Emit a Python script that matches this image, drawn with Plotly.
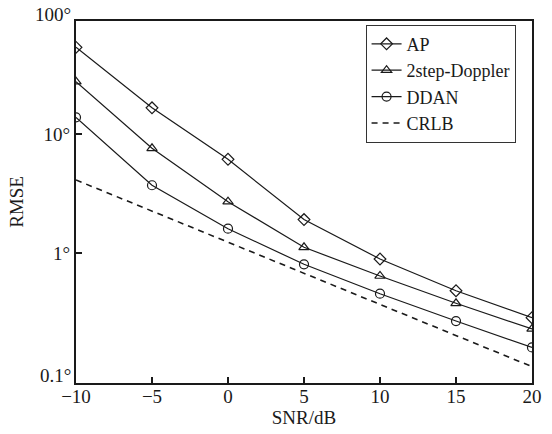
import numpy as np
import plotly.graph_objects as go

snr = [-10, -5, 0, 5, 10, 15, 20]
rmse_ap = [53.5, 16.6, 6.13, 1.91, 0.89, 0.482, 0.286]
rmse_2step = [27.5, 7.58, 2.70, 1.117, 0.641, 0.378, 0.230]
rmse_ddan = [13.8, 3.71, 1.60, 0.804, 0.455, 0.268, 0.161]
rmse_crlb = [4.11, 2.25, 1.23, 0.675, 0.369, 0.202, 0.111]

x_ticks = [-10, -5, 0, 5, 10, 15, 20]
y_ticks = [1, 10]
y_ticklabels = ["1°", "10°"]

FONT = "Liberation Serif, Times New Roman, serif"
INK = "#1a1a1a"

fig = go.Figure()

series = [
    ("AP", rmse_ap, "diamond-open"),
    ("2step-Doppler", rmse_2step, "triangle-up-open"),
    ("DDAN", rmse_ddan, "circle-open"),
]
for name, vals, sym in series:
    fig.add_trace(go.Scatter(
        x=snr, y=vals, name=name, mode="lines+markers",
        line=dict(color=INK, width=1.2),
        marker=dict(symbol=sym, size=9, color=INK, line=dict(width=1.2)),
    ))

fig.add_trace(go.Scatter(
    x=snr, y=rmse_crlb, name="CRLB", mode="lines",
    line=dict(color=INK, width=1.6, dash="6px,5px"),
))

# outer decade labels sit just beyond the drawn frame
fig.add_annotation(text="100°", xref="paper", yref="paper", x=-0.006, y=1.017,
                   xanchor="right", yanchor="middle", showarrow=False,
                   font=dict(size=19, color=INK, family=FONT))
fig.add_annotation(text="0.1°", xref="paper", yref="paper", x=-0.006, y=0.022,
                   xanchor="right", yanchor="middle", showarrow=False,
                   font=dict(size=19, color=INK, family=FONT))

fig.update_layout(
    width=552, height=434,
    margin=dict(l=76, r=10, t=21, b=51),
    paper_bgcolor="white", plot_bgcolor="white",
    font=dict(family=FONT, size=19, color=INK),
    showlegend=True,
    legend=dict(
        x=0.635, y=0.99, xanchor="left", yanchor="top",
        bgcolor="white", bordercolor="#333333", borderwidth=1,
        font=dict(size=18), tracegroupgap=0, itemwidth=30,
    ),
)

fig.update_xaxes(
    range=[-10, 20], tickvals=x_ticks, ticks="inside", ticklen=6, tickwidth=2,
    tickcolor=INK, showline=True, linewidth=2, linecolor=INK,
    mirror=True, showgrid=False, zeroline=False, ticklabelstandoff=-5,
    title=dict(text="SNR/dB", standoff=0, font=dict(size=19)),
)
fig.update_yaxes(
    type="log", range=[-1.0924, 1.9496], tickvals=y_ticks, ticktext=y_ticklabels,
    ticks="inside", ticklen=6, tickwidth=2, tickcolor=INK,
    showline=True, linewidth=2, linecolor=INK, mirror=True,
    showgrid=False, zeroline=False,
    title=dict(text="RMSE", standoff=15, font=dict(size=19)),
)

# drop the browser's default body margin so the figure sits at the page origin
fig.write_html("out.html", config={"displayModeBar": False},
               post_script="document.body.style.margin='0';")
